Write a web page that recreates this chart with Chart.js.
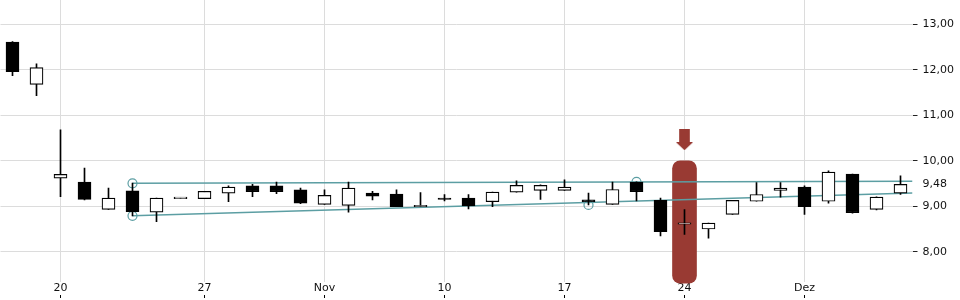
<!DOCTYPE html>
<html>
<head>
<meta charset="utf-8">
<script src="https://cdn.jsdelivr.net/npm/chart.js@4.4.1/dist/chart.umd.min.js"></script>
<style>
	html, body { margin: 0; padding: 0; background: #fff; }
	#wrap { width: 960px; height: 300px; }
</style>
</head>
<body>
<div id="wrap"><canvas id="myChart" width="960" height="300"></canvas></div>
<script>
	// x tick positions (candle index) and their labels
	var tickIndex = [2, 8, 13, 18, 23, 28, 33];
	var tickLabels = ["20", "27", "Nov", "10", "17", "24", "Dez"];

	// daily candles
	var open  = [12.61, 11.68, 9.62, 9.53, 8.93, 9.34, 8.87, 9.17, 9.17, 9.29, 9.45, 9.45, 9.36, 9.04, 9.02, 9.29, 9.27, 8.99, 9.17,
		9.18, 9.10, 9.31, 9.35, 9.35, 9.14, 9.04, 9.53, 9.13, 8.605, 8.50, 8.82, 9.11, 9.35, 9.42, 9.11, 9.71, 8.93, 9.29];
	var high  = [12.62, 12.13, 10.68, 9.84, 9.40, 9.51, 9.18, 9.18, 9.33, 9.45, 9.48, 9.53, 9.40, 9.36, 9.53, 9.33, 9.36, 9.30, 9.26,
		9.26, 9.31, 9.56, 9.47, 9.58, 9.29, 9.53, 9.54, 9.18, 8.93, 8.63, 9.13, 9.52, 9.52, 9.45, 9.78, 9.71, 9.21, 9.67];
	var low   = [11.87, 11.43, 9.21, 9.14, 8.93, 8.79, 8.66, 9.17, 9.17, 9.10, 9.21, 9.28, 9.06, 9.04, 8.87, 9.14, 8.99, 8.99, 9.12,
		8.94, 8.99, 9.31, 9.15, 9.35, 9.03, 9.04, 9.12, 8.35, 8.38, 8.30, 8.82, 9.11, 9.20, 8.82, 9.07, 8.85, 8.92, 9.26];
	var close = [11.96, 12.05, 9.70, 9.15, 9.18, 8.88, 9.18, 9.18, 9.33, 9.42, 9.32, 9.32, 9.07, 9.24, 9.40, 9.22, 8.99, 8.99, 9.15,
		9.01, 9.31, 9.46, 9.46, 9.42, 9.10, 9.37, 9.32, 8.44, 8.605, 8.63, 9.13, 9.26, 9.40, 8.99, 9.75, 8.86, 9.20, 9.48];

	// right axis ticks (9.48 = last price)
	var yTicks = [8, 9, 9.48, 10, 11, 12, 13];
	var lastPrice = 9.48;

	// trend channel
	var upperLine = [{x: 5, y: 9.505}, {x: 37.5, y: 9.55}];
	var lowerLine = [{x: 5, y: 8.79}, {x: 37.5, y: 9.29}];
	var anchors = [{x: 5, y: 9.505}, {x: 26, y: 9.535}, {x: 5, y: 8.79}, {x: 24, y: 9.03}];

	// highlighted day and arrow
	var markDay = 28;
	var markRange = [7.31, 10.0];
	var arrowShaft = [10.40, 10.69];
	var arrowHead = 10.32;

	var red = "#993a33";
	var teal = "#5c9ea3";
	var gridCol = "#dcdcdc";

	var bodies = [], wicks = [], bodyCol = [];
	for (var i = 0; i < open.length; i++) {
		bodies.push({x: i, y: [open[i], close[i]]});
		wicks.push({x: i, y: [low[i], high[i]]});
		bodyCol.push(close[i] >= open[i] ? "#ffffff" : "#000000");
	}

	var head = document.createElement("canvas");
	head.width = 17; head.height = 8;
	var hc = head.getContext("2d");
	hc.fillStyle = red;
	hc.beginPath(); hc.moveTo(0, 0); hc.lineTo(17, 0); hc.lineTo(8.5, 8); hc.closePath(); hc.fill();

	function setTicks(list) {
		return function(scale) {
			scale.ticks = list.map(function(v) { return {value: v}; });
		};
	}
	function fitTo(key, size) {
		return function(s) {
			s[key] = size;
			s.paddingTop = 0; s.paddingBottom = 0; s.paddingLeft = 0; s.paddingRight = 0;
		};
	}

	Chart.defaults.font.family = "'DejaVu Sans', sans-serif";
	Chart.defaults.font.size = 11;
	Chart.defaults.color = "#222";

	var ctx = document.getElementById("myChart");
	var myChart = new Chart(ctx, {
		type: 'bar',
		data: {
			datasets: [{
				label: 'body',
				data: bodies,
				backgroundColor: bodyCol,
				borderColor: "#000",
				borderWidth: 1.2,
				borderSkipped: false,
				barThickness: 13,
				minBarLength: 1.5,
				grouped: false,
				order: 0
			}, {
				label: 'wick',
				data: wicks,
				backgroundColor: "#000",
				borderWidth: 0,
				barThickness: 1,
				grouped: false,
				order: 1
			}, {
				type: 'line',
				label: 'anchors',
				data: anchors,
				showLine: false,
				pointRadius: 4.5,
				pointBorderWidth: 1.2,
				pointBorderColor: teal,
				pointBackgroundColor: "rgba(0,0,0,0)",
				order: 2
			}, {
				type: 'line',
				label: 'upper',
				data: upperLine,
				borderColor: teal,
				borderWidth: 1.5,
				pointRadius: 0,
				order: 3
			}, {
				type: 'line',
				label: 'lower',
				data: lowerLine,
				borderColor: teal,
				borderWidth: 1.5,
				pointRadius: 0,
				order: 3
			}, {
				type: 'line',
				label: 'arrowHead',
				data: [{x: markDay, y: arrowHead}],
				showLine: false,
				pointStyle: head,
				order: 4
			}, {
				label: 'arrowShaft',
				data: [{x: markDay, y: arrowShaft}],
				backgroundColor: red,
				barThickness: 10,
				grouped: false,
				order: 4
			}, {
				label: 'mark',
				data: [{x: markDay, y: markRange}],
				backgroundColor: red,
				barThickness: 24,
				borderRadius: 8,
				borderSkipped: false,
				grouped: false,
				clip: false,
				order: 5
			}]
		},
		options: {
			responsive: false,
			animation: false,
			layout: { autoPadding: false, padding: { left: 0.5, right: 0, top: 0, bottom: 2 } },
			plugins: {
				legend: { display: false },
				tooltip: { enabled: false }
			},
			scales: {
				x: {
					type: 'linear',
					min: -0.5,
					max: 37.5,
					offset: false,
					position: 'bottom',
					afterBuildTicks: setTicks(tickIndex),
					afterFit: fitTo('height', 13),
					border: { display: false },
					grid: { color: gridCol, drawTicks: false, offset: false },
					ticks: {
						padding: 0,
						maxRotation: 0,
						autoSkip: false,
						color: "#111",
						callback: function(v) { return tickLabels[tickIndex.indexOf(v)]; }
					}
				},
				x2: {
					type: 'linear',
					min: -0.5,
					max: 37.5,
					offset: false,
					position: 'bottom',
					afterBuildTicks: setTicks(tickIndex),
					afterFit: fitTo('height', 3),
					border: { display: false },
					grid: { drawOnChartArea: false, drawTicks: true, tickLength: 3, tickColor: "#000", color: "#000", offset: false },
					ticks: { display: false }
				},
				y: {
					position: 'right',
					min: 7.336,
					max: 13.534,
					afterBuildTicks: setTicks(yTicks),
					afterFit: fitTo('width', 47.5),
					border: { display: false },
					grid: {
						color: function(c) { return c.tick && c.tick.value === lastPrice ? "rgba(0,0,0,0)" : gridCol; },
						tickColor: function(c) { return c.tick && c.tick.value === lastPrice ? "rgba(0,0,0,0)" : "#222"; },
						tickLength: 5
					},
					ticks: {
						padding: 5,
						color: "#111",
						callback: function(v) { return v.toFixed(2).replace(".", ","); }
					}
				}
			}
		}
	});
</script>
</body>
</html>
